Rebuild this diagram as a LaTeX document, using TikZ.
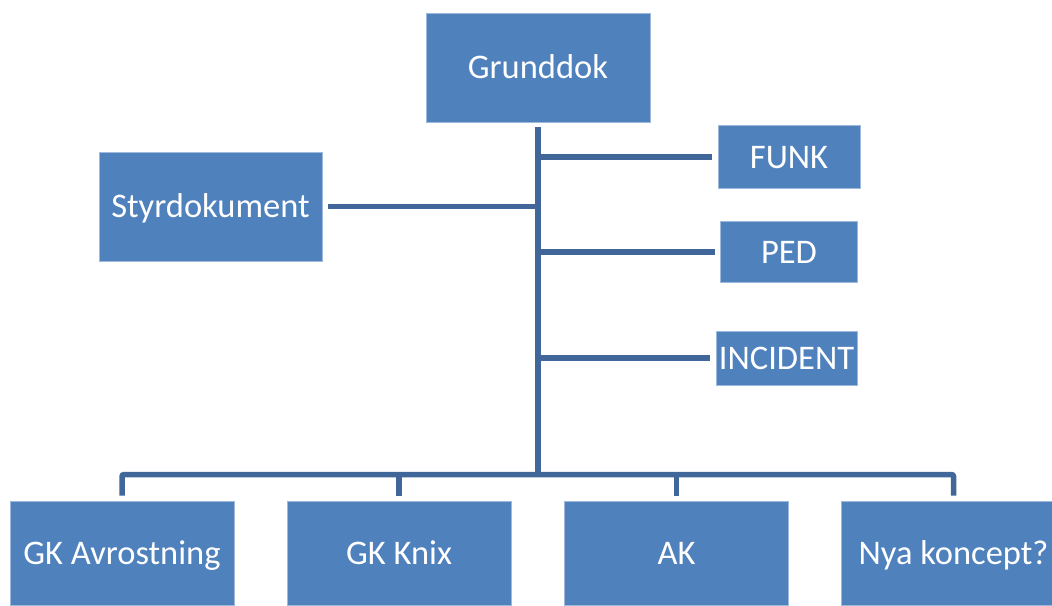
\documentclass[tikz,border=0pt]{standalone}
\usepackage{fontspec}
\setmainfont{Carlito}
\usetikzlibrary{calc}
\definecolor{boxfill}{HTML}{4F81BD}
\definecolor{boxedge}{HTML}{9DB9DC}
\definecolor{linecol}{HTML}{41679A}
\begin{document}
\begin{tikzpicture}[x=1pt,y=-1pt,
  box/.style={rectangle, fill=boxfill, draw=boxedge, line width=0.8pt, text=white,
    inner sep=0pt, text height=22pt, text depth=0pt, font=\fontsize{34.5}{41}\selectfont},
  conn/.style={draw=linecol, line width=5.5pt}]
\clip (0,0) rectangle (1052,605);
\useasboundingbox (0,0) rectangle (1052,605);
\node[box, minimum width=224pt, minimum height=109pt] (g) at (538,67.5) {Grunddok};
\node[box, minimum width=223pt, minimum height=109pt] (s) at (210.5,206.5) {Styrdokument};
\node[box, minimum width=142pt, minimum height=63pt] (f) at (789,157) {FUNK};
\node[box, minimum width=137pt, minimum height=61pt] (p) at (789,252) {PED};
\node[box, minimum width=141pt, minimum height=54pt] (i) at (786.5,358) {INCIDENT};
\node[box, minimum width=224pt, minimum height=104pt] (b1) at (122,553) {GK Avrostning};
\node[box, minimum width=224pt, minimum height=104pt] (b2) at (399,553) {GK Knix};
\node[box, minimum width=224pt, minimum height=104pt] (b3) at (676.5,553) {AK};
\node[box, minimum width=224pt, minimum height=104pt] (b4) at (953.5,553) {Nya koncept?};
\coordinate (top) at ($(g.south)+(0,5)$);
\coordinate (bus) at (538,474.5);
% trunk
\draw[conn] (top) -- ($(bus)+(0,2.75)$);
% side branches
\draw[conn] ([xshift=-6pt]f.west) -- (top |- f.west);
\draw[conn] ([xshift=-5pt]p.west) -- (top |- p.west);
\draw[conn] ([xshift=-6pt]i.west) -- (top |- i.west);
\draw[conn] ([xshift=6pt]s.east) -- (top |- s.east);
% bottom bus
\draw[conn, rounded corners=2pt] ([yshift=5pt]b1.north) |- (bus) -| ([yshift=5pt]b4.north);
\draw[conn] ([yshift=5pt]b2.north) -- (b2.north |- bus);
\draw[conn] ([yshift=5pt]b3.north) -- (b3.north |- bus);
\end{tikzpicture}
\end{document}
